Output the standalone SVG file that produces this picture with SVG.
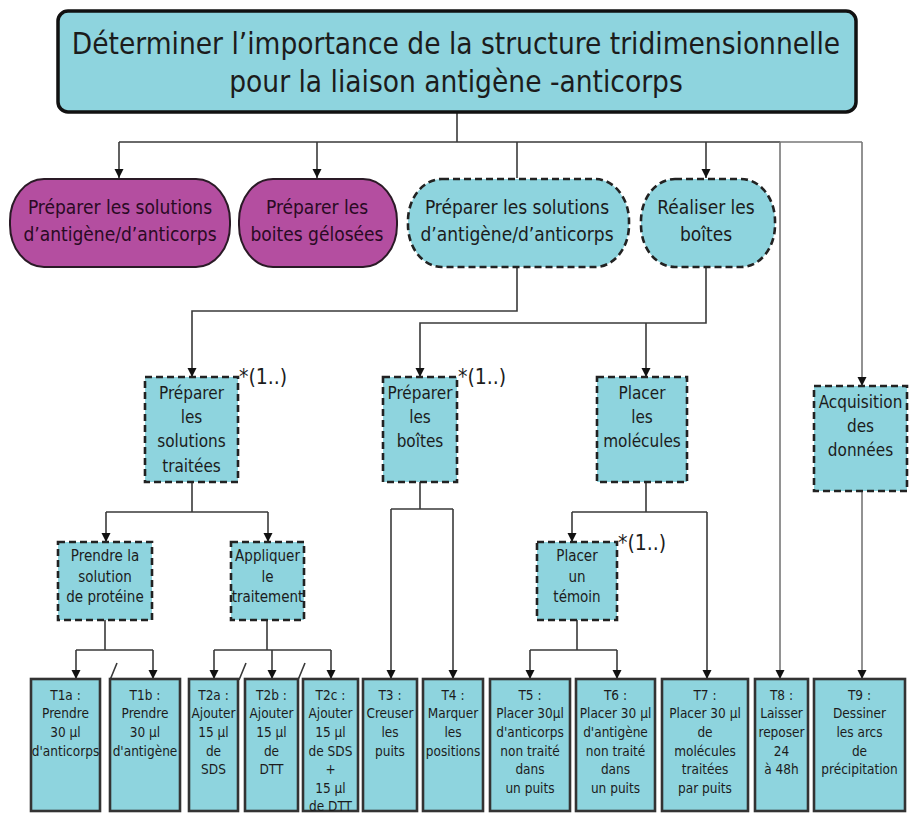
<svg xmlns="http://www.w3.org/2000/svg" width="913" height="813" viewBox="0 0 913 813">
<style>
text{font-family:"DejaVu Sans Condensed","DejaVu Sans","Liberation Sans",sans-serif;text-anchor:middle;fill:#1c1c1c}
.top{fill:#8ed4de;stroke:#111;stroke-width:3.5}
.title{font-size:29.5px}
.pur{fill:#b44ea0;stroke:#2a1a26;stroke-width:2}
.pur-t{font-size:19px;fill:#2a0a24}
.dash{fill:#8ed4de;stroke:#222;stroke-width:2.6;stroke-dasharray:7 4}
.task{fill:#8ed4de;stroke:#333;stroke-width:2.6}
.r2{font-size:19px}
.mid{font-size:17px}
.sm{font-size:15px}
.tt{font-size:13.5px}
.mult{font-size:21px;text-anchor:start}
.ln{fill:none;stroke:#3a3a3a;stroke-width:1.6}
.ln2{fill:none;stroke:#777;stroke-width:1.6}
.ar{marker-end:url(#arr)}
</style>
<defs>
<marker id="arr" markerUnits="userSpaceOnUse" markerWidth="9" markerHeight="10" viewBox="0 0 10 10" refX="10" refY="5" orient="auto">
<path d="M0,0 L10,5 L0,10 z" fill="#111"/>
</marker>
</defs>
<rect width="913" height="813" fill="#ffffff"/>

<g id="connectors">
<path class="ln" d="M457,112 V142 M119,142 H780"/>
<path class="ln2" d="M780,142 H862"/>
<path class="ln ar" d="M119,142 V178"/>
<path class="ln ar" d="M317,142 V178"/>
<path class="ln" d="M517,142 V178"/>
<path class="ln ar" d="M706,142 V178"/>
<path class="ln2 ar" d="M780,142 V679"/>
<path class="ln2 ar" d="M862,142 V386"/>
<path class="ln ar" d="M517,267 V311 H192 V377"/>
<path class="ln ar" d="M706,267 V323 H420 V377"/>
<path class="ln ar" d="M646,323 V377"/>
<path class="ln" d="M192,482 V512 M106,512 H268"/>
<path class="ln ar" d="M106,512 V542"/>
<path class="ln ar" d="M268,512 V542"/>
<path class="ln" d="M420,482 V509 M391,509 H453"/>
<path class="ln ar" d="M391,509 V679"/>
<path class="ln ar" d="M453,509 V679"/>
<path class="ln" d="M646,482 V512 M572,512 H707"/>
<path class="ln ar" d="M572,512 V542"/>
<path class="ln ar" d="M707,512 V679"/>
<path class="ln" d="M105,620 V650 M76,650 H153"/>
<path class="ln ar" d="M76,650 V679"/>
<path class="ln ar" d="M153,650 V679"/>
<path class="ln" d="M267,620 V650 M214,650 H331"/>
<path class="ln ar" d="M214,650 V679"/>
<path class="ln ar" d="M272,650 V679"/>
<path class="ln ar" d="M331,650 V679"/>
<path class="ln" d="M577,620 V650 M530,650 H617"/>
<path class="ln ar" d="M530,650 V679"/>
<path class="ln ar" d="M617,650 V679"/>
<path class="ln2 ar" d="M862,491 V679"/>
<path class="ln" d="M110,680 L117,663 M239,680 L246,663 M298,680 L305,663"/>
</g>

<g id="root">
<rect class="top" x="58" y="11" width="798" height="101" rx="10"/>
<text class="title" x="456" y="54">Déterminer l’importance de la structure tridimensionnelle</text>
<text class="title" x="456" y="92">pour la liaison antigène -anticorps</text>
</g>

<g id="n-prep-sol-1">
<rect class="pur" x="10" y="179" width="220" height="88" rx="34" ry="42"/>
<text class="pur-t" x="120" y="214">Préparer les solutions</text>
<text class="pur-t" x="120" y="241">d’antigène/d’anticorps</text>
</g>
<g id="n-prep-boites-gel">
<rect class="pur" x="239" y="179" width="158" height="88" rx="34" ry="42"/>
<text class="pur-t" x="317" y="214">Préparer les</text>
<text class="pur-t" x="317" y="241">boites gélosées</text>
</g>
<g id="n-prep-sol-2">
<rect class="dash" x="408" y="179" width="221" height="88" rx="34" ry="42"/>
<text class="r2" x="517" y="214">Préparer les solutions</text>
<text class="r2" x="517" y="241">d’antigène/d’anticorps</text>
</g>
<g id="n-realiser">
<rect class="dash" x="641" y="179" width="134" height="88" rx="34" ry="42"/>
<text class="r2" x="706" y="214">Réaliser les</text>
<text class="r2" x="706" y="241">boîtes</text>
</g>

<g id="n-sol-traitees">
<rect class="dash" x="145" y="377" width="93" height="105"/>
<text class="mid" x="191.5" y="399">Préparer</text>
<text class="mid" x="191.5" y="423">les</text>
<text class="mid" x="191.5" y="447">solutions</text>
<text class="mid" x="191.5" y="472">traitées</text>
<text class="mult" x="239" y="384">*(1..)</text>
</g>
<g id="n-prep-boites">
<rect class="dash" x="383" y="377" width="74" height="105"/>
<text class="mid" x="420" y="399">Préparer</text>
<text class="mid" x="420" y="423">les</text>
<text class="mid" x="420" y="447">boîtes</text>
<text class="mult" x="458" y="384">*(1..)</text>
</g>
<g id="n-placer-mol">
<rect class="dash" x="597" y="377" width="90" height="105"/>
<text class="mid" x="642" y="399">Placer</text>
<text class="mid" x="642" y="423">les</text>
<text class="mid" x="642" y="447">molécules</text>
</g>
<g id="n-acquisition">
<rect class="dash" x="814" y="386" width="93" height="105"/>
<text class="mid" x="860.5" y="408">Acquisition</text>
<text class="mid" x="860.5" y="432">des</text>
<text class="mid" x="860.5" y="456">données</text>
</g>

<g id="n-prendre">
<rect class="dash" x="58" y="542" width="94" height="78"/>
<text class="sm" x="105" y="561">Prendre la</text>
<text class="sm" x="105" y="582">solution</text>
<text class="sm" x="105" y="602">de protéine</text>
</g>
<g id="n-appliquer">
<rect class="dash" x="231" y="542" width="73" height="78"/>
<text class="sm" x="267.5" y="561">Appliquer</text>
<text class="sm" x="267.5" y="582">le</text>
<text class="sm" x="267.5" y="602">traitement</text>
</g>
<g id="n-temoin">
<rect class="dash" x="537" y="542" width="80" height="78"/>
<text class="sm" x="577" y="561">Placer</text>
<text class="sm" x="577" y="582">un</text>
<text class="sm" x="577" y="602">témoin</text>
<text class="mult" x="618" y="550">*(1..)</text>
</g>

<g id="t1a">
<rect class="task" x="31" y="679" width="69" height="132"/>
<text class="tt" x="65.5" y="700">T1a :</text>
<text class="tt" x="65.5" y="718">Prendre</text>
<text class="tt" x="65.5" y="737">30 µl</text>
<text class="tt" x="65.5" y="756">d'anticorps</text>
</g>
<g id="t1b">
<rect class="task" x="110" y="679" width="70" height="132"/>
<text class="tt" x="145" y="700">T1b :</text>
<text class="tt" x="145" y="718">Prendre</text>
<text class="tt" x="145" y="737">30 µl</text>
<text class="tt" x="145" y="756">d'antigène</text>
</g>
<g id="t2a">
<rect class="task" x="189" y="679" width="49" height="132"/>
<text class="tt" x="213.5" y="700">T2a :</text>
<text class="tt" x="213.5" y="718">Ajouter</text>
<text class="tt" x="213.5" y="737">15 µl</text>
<text class="tt" x="213.5" y="756">de</text>
<text class="tt" x="213.5" y="774">SDS</text>
</g>
<g id="t2b">
<rect class="task" x="245" y="679" width="53" height="132"/>
<text class="tt" x="271.5" y="700">T2b :</text>
<text class="tt" x="271.5" y="718">Ajouter</text>
<text class="tt" x="271.5" y="737">15 µl</text>
<text class="tt" x="271.5" y="756">de</text>
<text class="tt" x="271.5" y="774">DTT</text>
</g>
<g id="t2c">
<rect class="task" x="303" y="679" width="55" height="132"/>
<text class="tt" x="330.5" y="700">T2c :</text>
<text class="tt" x="330.5" y="718">Ajouter</text>
<text class="tt" x="330.5" y="737">15 µl</text>
<text class="tt" x="330.5" y="756">de SDS</text>
<text class="tt" x="330.5" y="774">+</text>
<text class="tt" x="330.5" y="793">15 µl</text>
<text class="tt" x="330.5" y="811">de DTT</text>
</g>
<g id="t3">
<rect class="task" x="363" y="679" width="54" height="132"/>
<text class="tt" x="390" y="700">T3 :</text>
<text class="tt" x="390" y="718">Creuser</text>
<text class="tt" x="390" y="737">les</text>
<text class="tt" x="390" y="756">puits</text>
</g>
<g id="t4">
<rect class="task" x="423" y="679" width="60" height="132"/>
<text class="tt" x="453" y="700">T4 :</text>
<text class="tt" x="453" y="718">Marquer</text>
<text class="tt" x="453" y="737">les</text>
<text class="tt" x="453" y="756">positions</text>
</g>
<g id="t5">
<rect class="task" x="490" y="679" width="80" height="132"/>
<text class="tt" x="530" y="700">T5 :</text>
<text class="tt" x="530" y="718">Placer 30µl</text>
<text class="tt" x="530" y="737">d'anticorps</text>
<text class="tt" x="530" y="756">non traité</text>
<text class="tt" x="530" y="774">dans</text>
<text class="tt" x="530" y="793">un puits</text>
</g>
<g id="t6">
<rect class="task" x="576" y="679" width="79" height="132"/>
<text class="tt" x="615.5" y="700">T6 :</text>
<text class="tt" x="615.5" y="718">Placer 30 µl</text>
<text class="tt" x="615.5" y="737">d'antigène</text>
<text class="tt" x="615.5" y="756">non traité</text>
<text class="tt" x="615.5" y="774">dans</text>
<text class="tt" x="615.5" y="793">un puits</text>
</g>
<g id="t7">
<rect class="task" x="662" y="679" width="86" height="132"/>
<text class="tt" x="705" y="700">T7 :</text>
<text class="tt" x="705" y="718">Placer 30 µl</text>
<text class="tt" x="705" y="737">de</text>
<text class="tt" x="705" y="756">molécules</text>
<text class="tt" x="705" y="774">traitées</text>
<text class="tt" x="705" y="793">par puits</text>
</g>
<g id="t8">
<rect class="task" x="755" y="679" width="53" height="132"/>
<text class="tt" x="781.5" y="700">T8 :</text>
<text class="tt" x="781.5" y="718">Laisser</text>
<text class="tt" x="781.5" y="737">reposer</text>
<text class="tt" x="781.5" y="756">24</text>
<text class="tt" x="781.5" y="774">à 48h</text>
</g>
<g id="t9">
<rect class="task" x="814" y="679" width="91" height="132"/>
<text class="tt" x="859.5" y="700">T9 :</text>
<text class="tt" x="859.5" y="718">Dessiner</text>
<text class="tt" x="859.5" y="737">les arcs</text>
<text class="tt" x="859.5" y="756">de</text>
<text class="tt" x="859.5" y="774">précipitation</text>
</g>
</svg>
